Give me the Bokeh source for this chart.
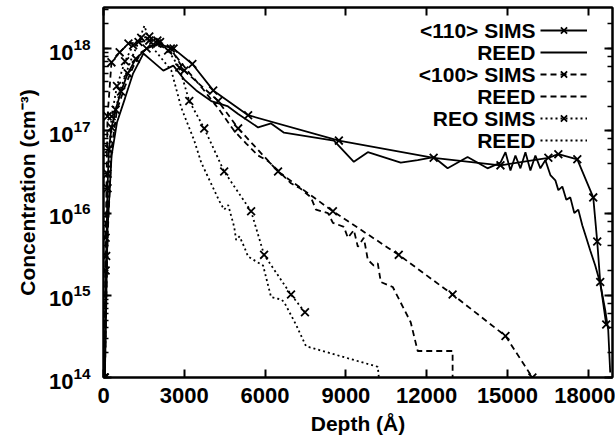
from bokeh.plotting import figure
from bokeh.models import (Range1d, FixedTicker, LinearAxis, LogAxis, Legend,
                          LegendItem, LogTicker, Label)
from bokeh.embed import file_html
from bokeh.resources import INLINE

# ---------------- data (depth in Angstrom, concentration in cm^-3) -------------
x110_sims = [50, 100, 150, 200, 300, 450, 650, 900, 1200, 1600, 2000, 2600, 3300,
             4074, 5370, 8740, 12259, 14740, 16519, 16889, 17593, 18185, 18333,
             18444, 18667]
c110_sims = [1e14, 3e15, 2e16, 6e16, 1.1e17, 1.8e17, 3e17, 5e17, 7.5e17, 1.0e18,
             1.15e18, 1.0e18, 6.5e17, 3.1e17, 1.55e17, 7.6e16, 4.7e16, 3.8e16,
             4.7e16, 5.2e16, 4.5e16, 1.55e16, 4.5e15, 1.45e15, 4.4e14]

x110_reed = [50, 150, 300, 500, 800, 1100, 1481, 1800, 2222, 2593, 3000, 3444,
             4000, 4600, 5000, 5741, 6222, 6704, 8556, 9296, 9815, 11037, 11667,
             12259, 12778, 13519, 14259, 14741, 14926, 15111, 15296, 15481, 15667,
             15852, 16037, 16222, 16407, 16593, 16778, 16889, 17037, 17185, 17333,
             17481, 17630, 17778, 17926, 18074, 18259, 18444, 18630, 18741, 18815]
c110_reed = [1e14, 6.3e15, 5e16, 1.26e17, 2.5e17, 5e17, 8.7e17, 7.1e17, 5.4e17,
             6.2e17, 4.2e17, 3.1e17, 2.3e17, 2.0e17, 1.6e17, 1.1e17, 1.23e17,
             9.5e16, 7.6e16, 4.2e16, 5.5e16, 4.1e16, 4.4e16, 4.8e16, 3.5e16,
             4.8e16, 3.5e16, 4.1e16, 5.5e16, 3.3e16, 5.0e16, 3.5e16, 5.5e16,
             3.3e16, 5.0e16, 3.5e16, 4.4e16, 2.9e16, 2.5e16, 1.9e16, 2.1e16,
             1.45e16, 1.55e16, 1.0e16, 1.1e16, 7.1e15, 5.0e15, 3.5e15, 2.3e15,
             1.4e15, 6.6e14, 3.8e14, 1.15e14]

x100_sims = [30, 80, 150, 296, 600, 926, 1300, 1700, 2100, 2500, 3000, 4260, 5000,
             6481, 8519, 10963, 12963, 14926, 15926]
c100_sims = [1e14, 5e15, 1.5e17, 6.8e17, 9e17, 1.15e18, 1.2e18, 1.25e18, 1.2e18,
             1.0e18, 5.4e17, 2.3e17, 1.07e17, 3.2e16, 1.05e16, 3.1e15, 1.02e15,
             3.2e14, 1e14]

x100_reed = [50, 150, 300, 500, 800, 1100, 1400, 1800, 2200, 2700, 3200, 3700,
             4300, 4852, 5300, 5741, 6100, 6481, 6963, 7300, 7704, 7889, 8333,
             8519, 8926, 9074, 9296, 9444, 9667, 9815, 10037, 10185, 10296, 10741,
             11407, 11667, 12963, 12963]
c100_reed = [1e14, 5e15, 6e16, 1.8e17, 3.5e17, 6e17, 9e17, 1.1e18, 1.05e18, 8e17,
             5e17, 3.2e17, 1.8e17, 1.0e17, 7e16, 5.0e16, 4.3e16, 3.3e16, 2.3e16,
             2.0e16, 1.55e16, 1.1e16, 1.0e16, 7.6e15, 6.8e15, 5.0e15, 6.2e15,
             3.9e15, 5.0e15, 2.7e15, 2.3e15, 2.45e15, 1.45e15, 1.26e15, 4.7e14,
             2.1e14, 2.1e14, 9e13]

xreo_sims = [30, 80, 150, 300, 500, 800, 1100, 1400, 1700, 2000, 2400, 2815, 3185,
             3741, 4481, 5481, 5963, 6963, 7481]
creo_sims = [1e14, 2e15, 3e16, 1.5e17, 3.5e17, 7e17, 1.1e18, 1.35e18, 1.4e18,
             1.25e18, 9.5e17, 5.9e17, 2.3e17, 1.07e17, 3.2e16, 1.05e16, 3.1e15,
             1.02e15, 6.2e14]

xreo_reed = [50, 150, 300, 600, 1000, 1300, 1519, 1750, 2100, 2519, 2889, 3370,
             3630, 4111, 4300, 4481, 4630, 4852, 4926, 5050, 5222, 5370, 5926, 6222,
             6593, 6704, 7148, 7519, 10185, 10222]
creo_reed = [1e14, 1e16, 1e17, 3e17, 7e17, 1.2e18, 1.9e18, 1.1e18, 8e17, 5.4e17,
             1.9e17, 7.6e16, 4.1e16, 1.9e16, 1.4e16, 1.1e16, 1.25e16, 6.8e15,
             4.7e15, 5.2e15, 3.9e15, 2.95e15, 2.3e15, 9.5e14, 8.9e14, 8.3e14,
             4.4e14, 2.4e14, 1.35e14, 1.02e14]

x_ticks = [0, 3000, 6000, 9000, 12000, 15000, 18000]
labels = ["<110> SIMS", "REED", "<100> SIMS", "REED", "REO SIMS", "REED"]

FONT = "Liberation Sans"

p = figure(width=615, height=444, y_axis_type="log",
           x_range=Range1d(0, 18900), y_range=Range1d(1e14, 3.16e18),
           output_backend="svg", toolbar_location=None,
           min_border_left=103, min_border_right=3, min_border_top=7,
           min_border_bottom=67)
p.grid.visible = False
p.outline_line_color = "black"
p.outline_line_width = 2
p.background_fill_color = "white"
p.border_fill_color = "white"

LW = 1.8
r1 = p.line(x110_sims, c110_sims, line_color="black", line_width=LW)
m1 = p.scatter(x110_sims, c110_sims, marker="x", size=11, line_color="black", line_width=LW)
r2 = p.line(x110_reed, c110_reed, line_color="black", line_width=LW)
r3 = p.line(x100_sims, c100_sims, line_color="black", line_width=LW, line_dash="6 4")
m3 = p.scatter(x100_sims, c100_sims, marker="x", size=11, line_color="black", line_width=LW)
r4 = p.line(x100_reed, c100_reed, line_color="black", line_width=LW, line_dash="6 4")
r5 = p.line(xreo_sims, creo_sims, line_color="black", line_width=LW, line_dash="2 3")
m5 = p.scatter(xreo_sims, creo_sims, marker="x", size=11, line_color="black", line_width=LW)
r6 = p.line(xreo_reed, creo_reed, line_color="black", line_width=LW, line_dash="2 3")

# axes
p.xaxis.ticker = FixedTicker(ticks=x_ticks, minor_ticks=[])
for ax in (p.xaxis[0], p.yaxis[0]):
    ax.axis_line_width = 2
    ax.major_tick_line_width = 2
    ax.minor_tick_line_width = 1.5
    ax.major_tick_in = 8
    ax.major_tick_out = 0
    ax.minor_tick_in = 5
    ax.minor_tick_out = 0
    ax.major_label_text_font = FONT
    ax.major_label_text_font_style = "bold"
    ax.major_label_text_font_size = "22px"
    ax.major_label_text_color = "black"
    ax.axis_label_text_font = FONT
    ax.axis_label_text_font_style = "bold"
    ax.axis_label_text_font_size = "21px"
    ax.axis_label_text_color = "black"

p.xaxis.axis_label = "Depth (Å)"
p.yaxis.axis_label = "Concentration (cm⁻³)"
p.xaxis.major_label_standoff = 10
p.xaxis.axis_label_standoff = 6
p.yaxis.major_label_standoff = 13
p.yaxis.axis_label_standoff = 7

top = LinearAxis(ticker=FixedTicker(ticks=x_ticks, minor_ticks=[]),
                 major_label_text_font_size="1px", major_label_text_alpha=0,
                 major_label_standoff=0,
                 major_tick_in=8, major_tick_out=0, axis_line_width=2,
                 major_tick_line_width=2, minor_tick_in=0, minor_tick_out=0)
right = LogAxis(ticker=LogTicker(), major_label_text_font_size="1px",
                major_label_text_alpha=0,
                major_label_standoff=0, major_tick_in=8, major_tick_out=0,
                minor_tick_in=5, minor_tick_out=0, axis_line_width=2,
                major_tick_line_width=2, minor_tick_line_width=1.5)
p.add_layout(top, "above")
p.add_layout(right, "right")

# legend: glyph samples from a Legend (blank labels), texts right-aligned to their left
ROW = 22
LEG_X = 437          # glyph start, px from frame left
LEG_TOP = 358        # legend top, px above frame bottom
items = [
    LegendItem(label=" ", renderers=[r1, m1]),
    LegendItem(label=" ", renderers=[r2]),
    LegendItem(label=" ", renderers=[r3, m3]),
    LegendItem(label=" ", renderers=[r4]),
    LegendItem(label=" ", renderers=[r5, m5]),
    LegendItem(label=" ", renderers=[r6]),
]
legend = Legend(items=items, location=(LEG_X, LEG_TOP - ROW * len(items)),
                background_fill_alpha=0, border_line_alpha=0,
                label_text_font=FONT, label_text_font_size="12px",
                glyph_width=47, glyph_height=ROW, label_height=ROW,
                label_width=0, spacing=0, padding=0, margin=0,
                label_standoff=0)
p.add_layout(legend)

for i, lab in enumerate(labels):
    p.add_layout(Label(x=LEG_X - 5, y=LEG_TOP - ROW * i - ROW / 2,
                       x_units="screen", y_units="screen", text=lab,
                       text_align="right", text_baseline="middle",
                       text_font=FONT, text_font_style="bold",
                       text_font_size="21px", text_color="black"))

open("out.html", "w").write(file_html(p, INLINE))
